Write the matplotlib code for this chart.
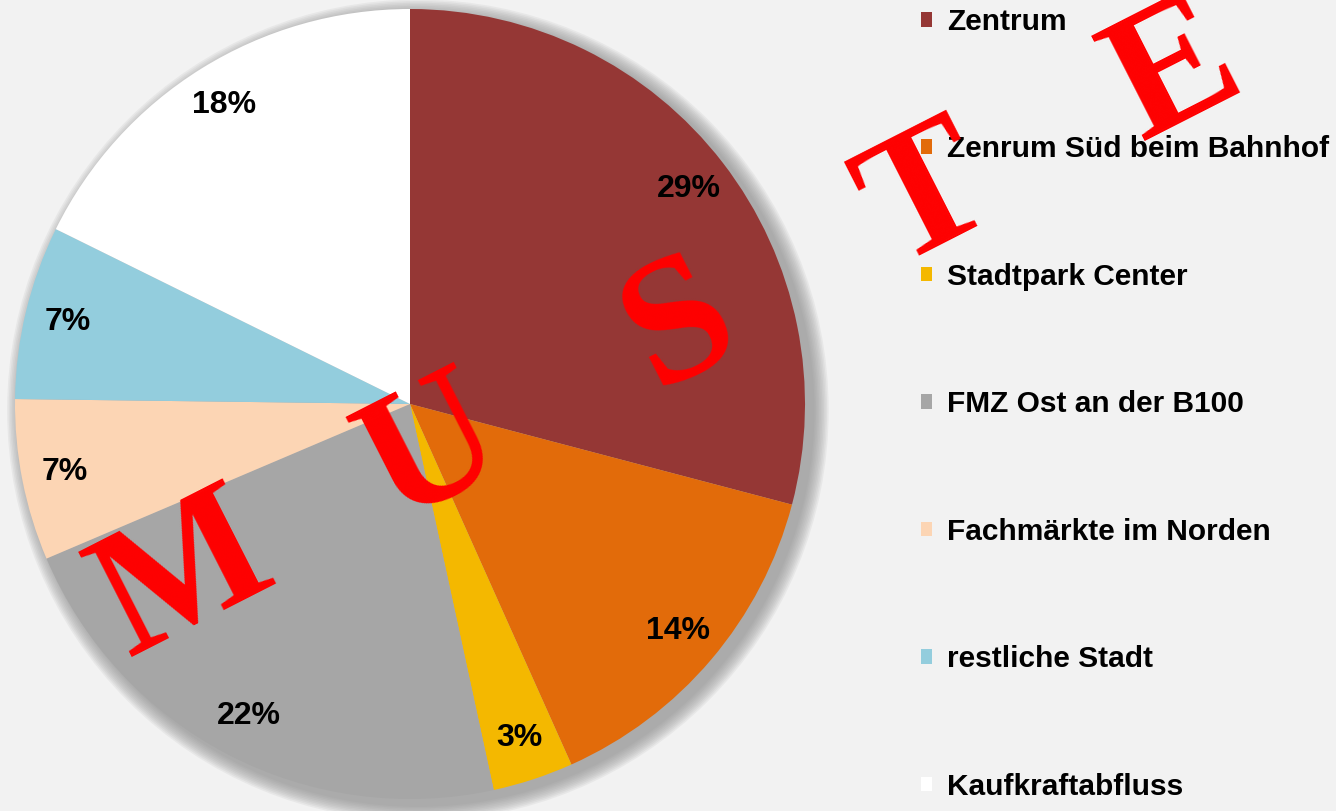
import matplotlib
matplotlib.use('Agg')
import math
import matplotlib.pyplot as plt
from matplotlib.patches import Circle, Patch

categories = ['Zentrum', 'Zenrum Süd beim Bahnhof', 'Stadtpark Center',
              'FMZ Ost an der B100', 'Fachmärkte im Norden', 'restliche Stadt',
              'Kaufkraftabfluss']
shares = [29.1, 14.2, 3.3, 22.0, 6.6, 7.1, 17.7]
colors = ['#953735', '#e26b0a', '#f4b800', '#a6a6a6', '#fcd5b4', '#93cddd', '#ffffff']
watermark_letters = ['M', 'U', 'S', 'T', 'E']

font = 'Liberation Sans'

W, H = 1336, 811
fig = plt.figure(figsize=(W / 100, H / 100), dpi=100, facecolor='#f2f2f2')
cx, cy, r = 410, 404, 395
ax = fig.add_axes([(cx - r) / W, (H - cy - r) / H, 2 * r / W, 2 * r / H])
ax.set_facecolor('none')

# soft shadow
for i in range(10):
    ax.add_patch(Circle((0.02, -0.016), 1.0 + 0.004 * (10 - i), color='#8c8c8c',
                        alpha=0.1, lw=0, zorder=0, clip_on=False))

wedges, texts, autotexts = ax.pie(
    shares, colors=colors, startangle=90, counterclock=False, radius=1,
    autopct='%.0f%%', pctdistance=0.89,
    textprops=dict(fontfamily=font, fontweight='bold', fontsize=23, color='black'),
    wedgeprops=dict(linewidth=0))
for w in wedges:
    w.set_zorder(2)
    w.set_clip_on(False)
for t in autotexts:
    t.set_zorder(3)

ax.set_xlim(-1, 1)
ax.set_ylim(-1, 1)
ax.set_aspect('equal')
ax.axis('off')

handles = [Patch(facecolor=c, edgecolor='none') for c in colors]
fig.legend(handles, categories, loc='upper left', bbox_to_anchor=(918 / W, 1 - 5 / H),
           frameon=False, handlelength=0.37, handleheight=0.37, handletextpad=0.5,
           labelspacing=3.33, borderaxespad=0, borderpad=0.1,
           prop=dict(family=font, weight='bold', size=21.5))

# red watermark letters
x0, y0 = 185, 580
step = 278
ang = 27
for i, ch in enumerate(watermark_letters):
    x = x0 + i * step * math.cos(math.radians(ang))
    y = y0 - i * step * math.sin(math.radians(ang))
    fig.text(x / W, 1 - y / H, ch, rotation=ang, ha='center', va='center',
             rotation_mode='anchor', fontsize=130, color='#ff0000',
             fontfamily='Liberation Serif', fontweight='bold', zorder=10)

fig.savefig('out.png', dpi=100, facecolor=fig.get_facecolor())
